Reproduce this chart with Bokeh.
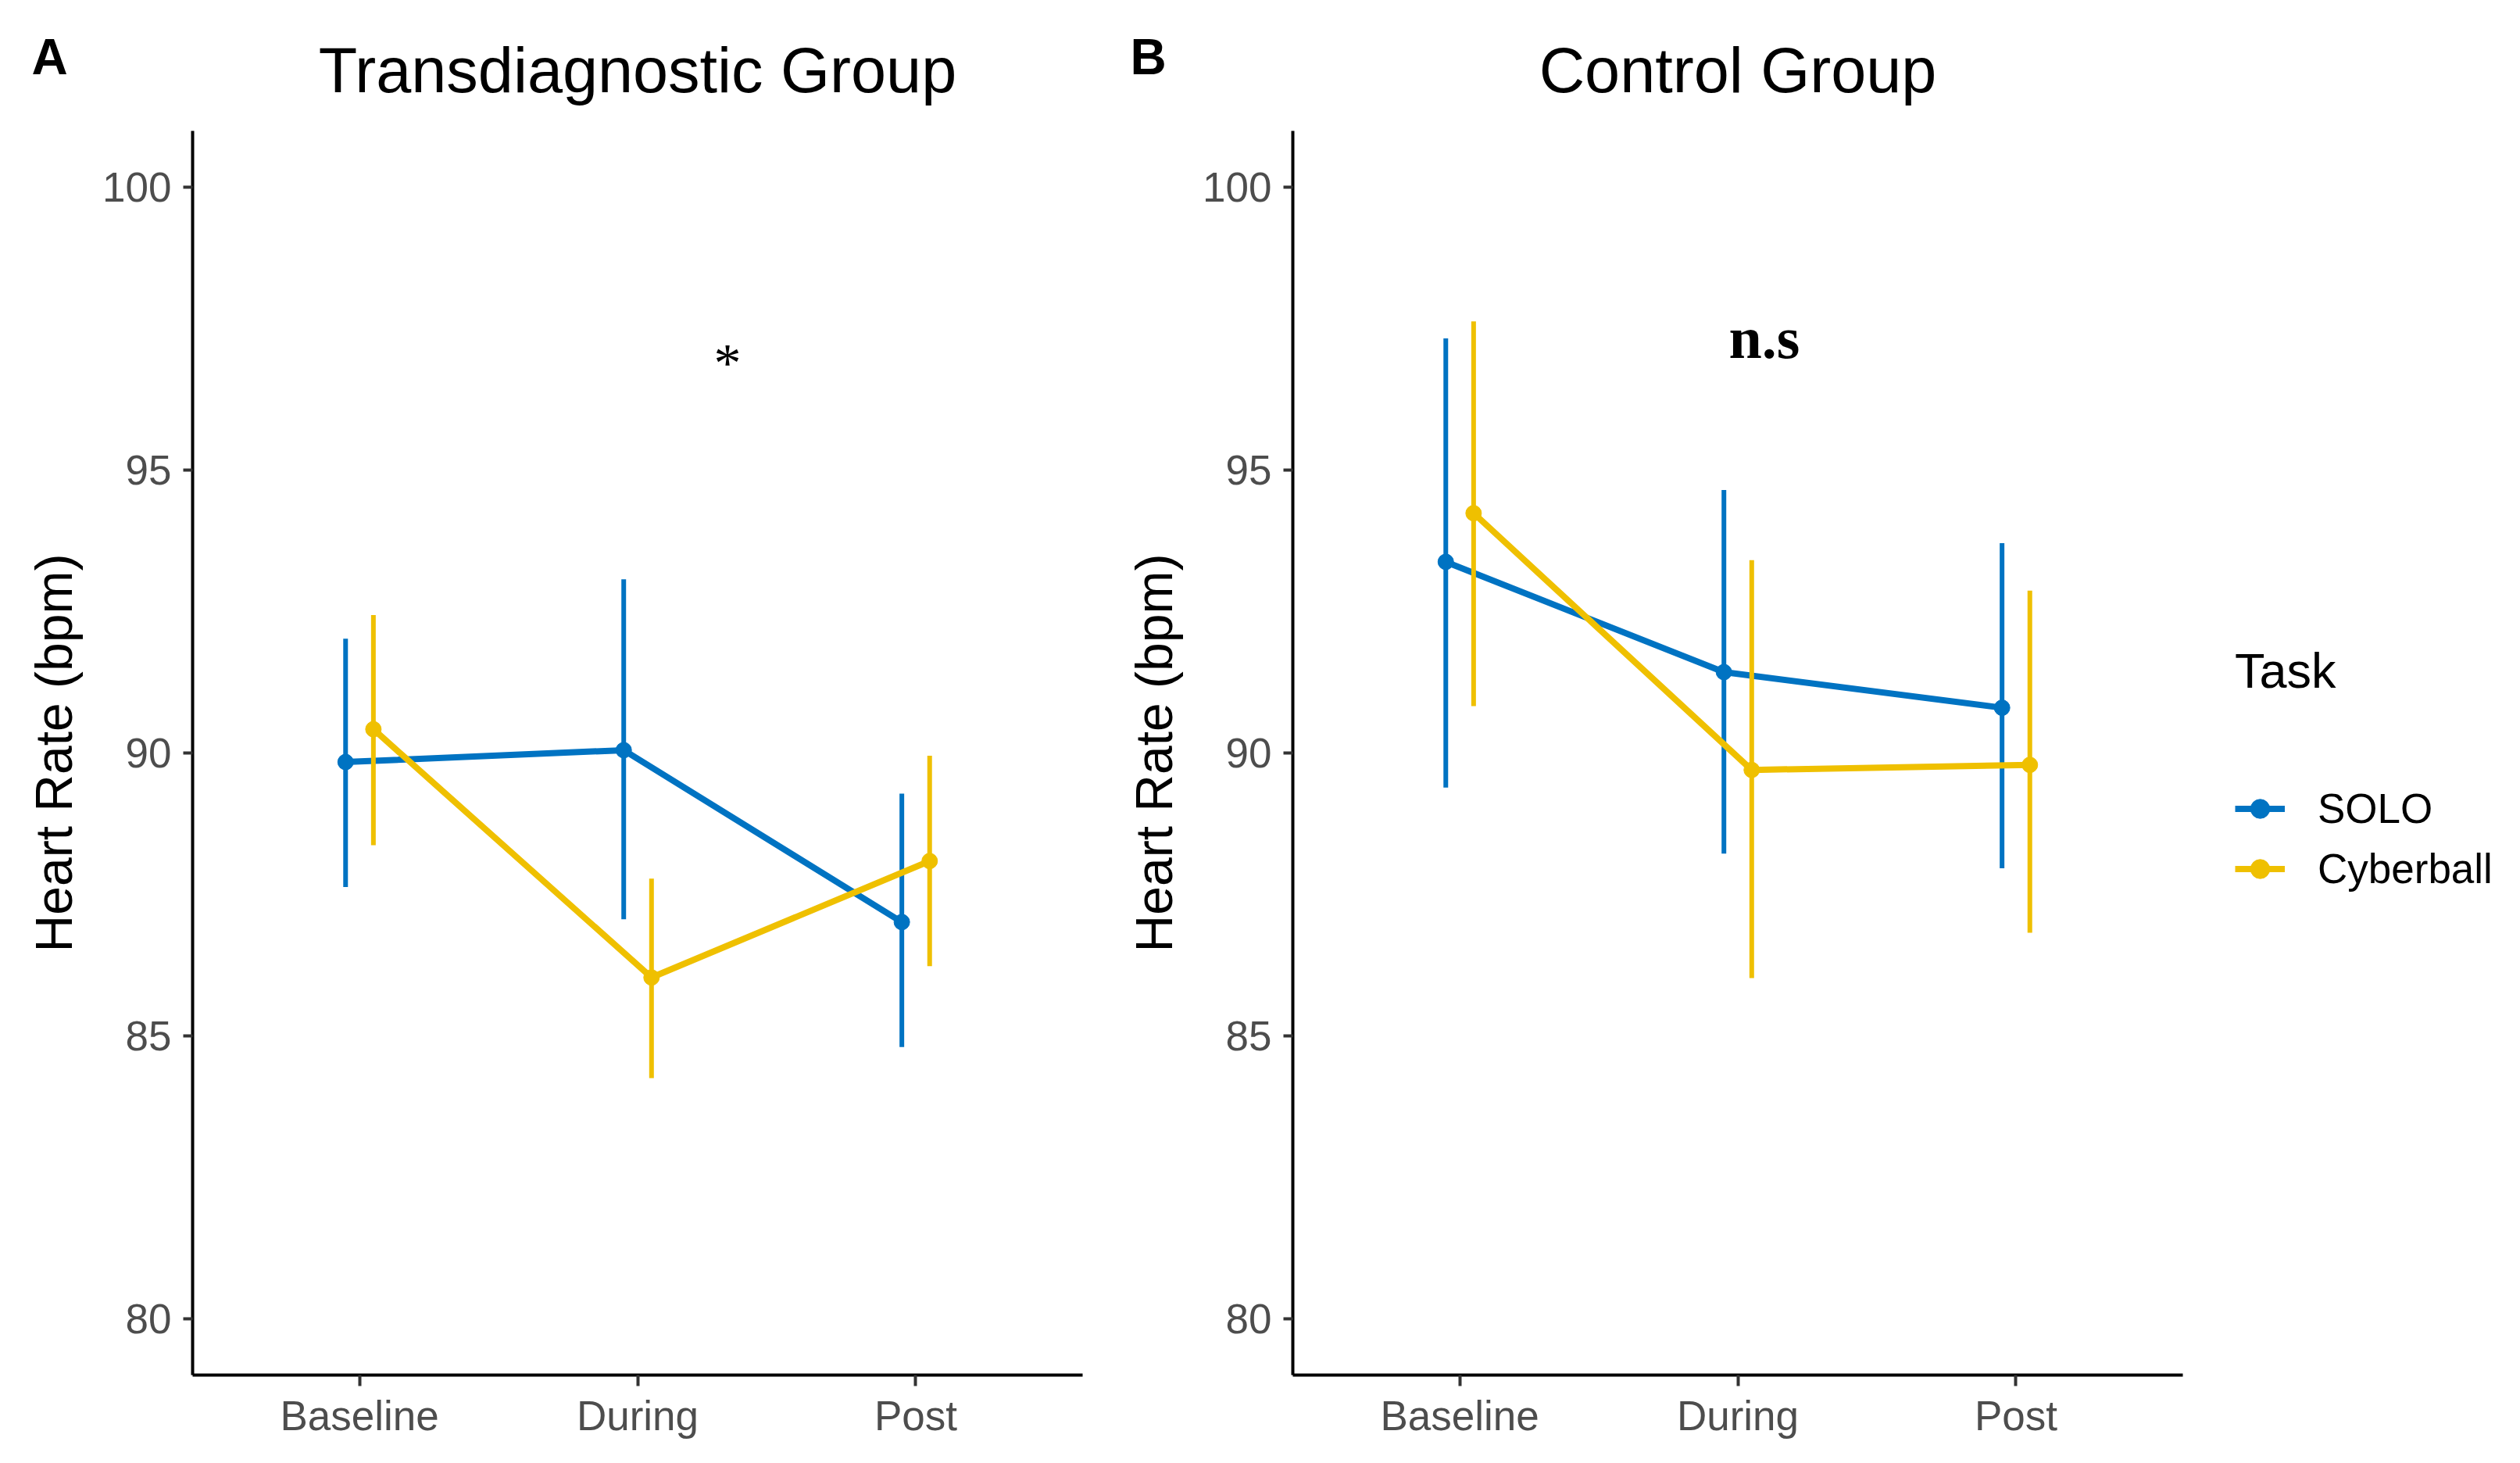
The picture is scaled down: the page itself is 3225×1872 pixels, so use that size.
from bokeh.plotting import figure
from bokeh.models import FixedTicker, Range1d, Label, Legend, LegendItem, ColumnDataSource
from bokeh.layouts import row, column
from bokeh.embed import file_html
from bokeh.resources import INLINE
from bokeh.core.properties import value

# ---------------- data ----------------
time_labels = ["Baseline", "During", "Post"]
time_pos = [1, 2, 3]
tasks = ["SOLO", "Cyberball"]
task_colors = ["#0073C2", "#EFC000"]
y_ticks = [80, 85, 90, 95, 100]
panel_titles = ["Transdiagnostic Group", "Control Group"]
panel_letters = ["A", "B"]

# Transdiagnostic group
trans_solo_mean = [89.84, 90.05, 87.01]
trans_solo_lo = [87.63, 87.06, 84.80]
trans_solo_hi = [92.02, 93.07, 89.28]
trans_cyber_mean = [90.42, 86.03, 88.09]
trans_cyber_lo = [88.37, 84.25, 86.23]
trans_cyber_hi = [92.44, 87.78, 89.95]

# Control group
ctrl_solo_mean = [93.38, 91.43, 90.80]
ctrl_solo_lo = [89.39, 88.22, 87.96]
ctrl_solo_hi = [97.33, 94.65, 93.71]
ctrl_cyber_mean = [94.24, 89.70, 89.79]
ctrl_cyber_lo = [90.83, 86.02, 86.82]
ctrl_cyber_hi = [97.63, 93.41, 92.87]

dodge = [-0.05, 0.05]

SANS = "Liberation Sans"
SERIF = "Liberation Serif"
HEADER_H = 167
FRAME_H = 1592
BOTTOM = 105
FRAME_W = 1139
P1_W, P1_BL = 1420, 246
P2_BL, P2_BR = 234, 10
P2_W = P2_BL + FRAME_W + P2_BR
LEG_W = 3217 - P1_W - P2_W


def make_panel(series, width, bl, br):
    p = figure(width=width, height=FRAME_H + BOTTOM,
               x_range=Range1d(0.4, 3.6), y_range=Range1d(79, 101),
               output_backend="svg", toolbar_location=None,
               min_border_left=bl, min_border_right=br,
               min_border_top=0, min_border_bottom=BOTTOM)
    p.grid.visible = False
    p.outline_line_color = None

    for ax in (p.xaxis[0], p.yaxis[0]):
        ax.axis_line_color = "black"
        ax.axis_line_width = 4
        ax.major_tick_line_color = "#333333"
        ax.major_tick_line_width = 4
        ax.major_tick_in = 0
        ax.minor_tick_line_color = None
        ax.major_label_text_font = SANS
        ax.major_label_text_font_size = "53px"
        ax.major_label_text_color = "#4D4D4D"
        ax.major_label_standoff = 15

    p.xaxis.ticker = FixedTicker(ticks=time_pos)
    p.xaxis.major_label_overrides = {t: lab for t, lab in zip(time_pos, time_labels)}
    p.xaxis.major_tick_out = 14
    p.xaxis.major_label_standoff = 8
    p.yaxis.ticker = FixedTicker(ticks=y_ticks)
    p.yaxis.major_tick_out = 12
    p.yaxis.axis_label = "Heart Rate (bpm)"
    p.yaxis.axis_label_text_font = SANS
    p.yaxis.axis_label_text_font_size = "66px"
    p.yaxis.axis_label_text_font_style = "normal"
    p.yaxis.axis_label_text_color = "black"
    p.yaxis.axis_label_standoff = 22

    for (mean, lo, hi), color, dx in zip(series, task_colors, dodge):
        xs = [t + dx for t in time_pos]
        src = ColumnDataSource(dict(x=xs, mean=mean, lo=lo, hi=hi))
        p.segment(x0="x", y0="lo", x1="x", y1="hi", source=src,
                  line_color=color, line_width=6)
        p.line(x="x", y="mean", source=src, line_color=color, line_width=8)
        p.scatter(x="x", y="mean", source=src, size=20, marker="circle",
                  fill_color=color, line_color=color)
    return p


p1 = make_panel([(trans_solo_mean, trans_solo_lo, trans_solo_hi),
                 (trans_cyber_mean, trans_cyber_lo, trans_cyber_hi)],
                width=P1_W, bl=P1_BL, br=P1_W - P1_BL - FRAME_W)
p1.text(x=[2.323], y=[96.90], text=["*"], text_font=value(SERIF),
        text_font_size="70px", text_color="black",
        text_align="center", text_baseline="alphabetic")

p2 = make_panel([(ctrl_solo_mean, ctrl_solo_lo, ctrl_solo_hi),
                 (ctrl_cyber_mean, ctrl_cyber_lo, ctrl_cyber_hi)],
                width=P2_W, bl=P2_BL, br=P2_BR)
p2.text(x=[2.095], y=[97.35], text=["n.s"], text_font=value(SERIF),
        text_font_size="76px", text_font_style="bold", text_color="black",
        text_align="center", text_baseline="alphabetic")

# legend strip to the right of panel B (key glyphs only, no visible data)
legfig = figure(width=LEG_W, height=FRAME_H + BOTTOM,
                x_range=Range1d(0, 1), y_range=Range1d(0, 1),
                output_backend="svg", toolbar_location=None,
                x_axis_location=None, y_axis_location=None, min_border=0)
legfig.grid.visible = False
legfig.outline_line_color = None
nan = float("nan")
items = []
for t, color in zip(tasks, task_colors):
    ln = legfig.line(x=[nan, nan], y=[nan, nan], line_color=color, line_width=8)
    pt = legfig.scatter(x=[nan], y=[nan], size=20, marker="circle",
                        fill_color=color, line_color=color)
    items.append(LegendItem(label=t, renderers=[ln, pt]))
legend = Legend(items=items, title="Task",
                location=(2860 - (P1_W + P2_W), 617),
                margin=0, padding=0,
                border_line_color=None, background_fill_alpha=0,
                title_text_font=SANS, title_text_font_size="63px",
                title_text_font_style="normal", title_text_color="black",
                title_standoff=110,
                label_text_font=SANS, label_text_font_size="53px",
                label_text_color="black", label_standoff=42,
                glyph_width=64, glyph_height=61, label_height=61, spacing=16)
legfig.add_layout(legend, "center")

# header strip holding panel titles and panel letters
TOTAL_W = P1_W + P2_W + LEG_W
header = figure(width=TOTAL_W, height=HEADER_H,
                x_range=Range1d(0, TOTAL_W), y_range=Range1d(0, HEADER_H),
                output_backend="svg", toolbar_location=None,
                x_axis_location=None, y_axis_location=None,
                min_border=0)
header.grid.visible = False
header.outline_line_color = None
title_centers = [P1_BL + FRAME_W / 2, P1_W + P2_BL + FRAME_W / 2]
letter_x = [40, P1_W + 26]
for t, c in zip(panel_titles, title_centers):
    header.add_layout(Label(x=c, y=HEADER_H - 89, text=t, text_font=SANS,
                            text_font_size="81px", text_color="black",
                            text_align="center", text_baseline="alphabetic"))
for l, lx in zip(panel_letters, letter_x):
    header.add_layout(Label(x=lx, y=HEADER_H - 72, text=l, text_font=SANS,
                            text_font_size="64px", text_font_style="bold",
                            text_color="black", text_align="left",
                            text_baseline="alphabetic"))

layout = column(header, row(p1, p2, legfig))
open("out.html", "w").write(file_html(layout, INLINE))
